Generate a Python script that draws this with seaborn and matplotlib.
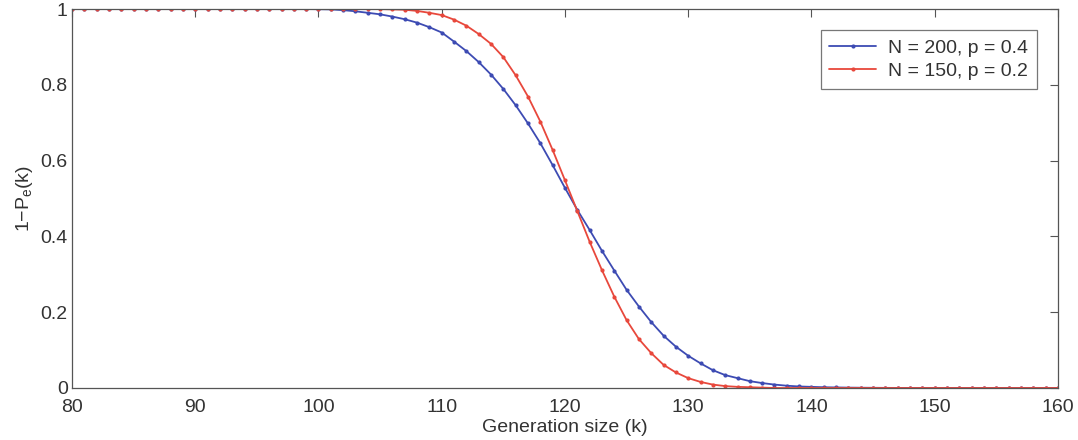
import pandas as pd
import matplotlib
matplotlib.use("Agg")
import matplotlib.pyplot as plt
import seaborn as sns

# generation size k = 80 .. 160
k_values = list(range(80, 161))

# N = 200, p = 0.4
blue_vals = (
    [1.0] * 20
    + [0.9995, 0.999, 0.997, 0.994, 0.990, 0.986, 0.980, 0.973, 0.964, 0.952]  # 100-109
    + [0.938, 0.914, 0.889, 0.860, 0.827, 0.789, 0.746, 0.698, 0.646, 0.588]   # 110-119
    + [0.528, 0.470, 0.417, 0.362, 0.310, 0.259, 0.215, 0.174, 0.138, 0.109]   # 120-129
    + [0.085, 0.065, 0.047, 0.034, 0.026, 0.018, 0.013, 0.009, 0.006, 0.004]   # 130-139
    + [0.003, 0.002, 0.0015, 0.001, 0.0007, 0.0005, 0.0003, 0.0002, 0.0001, 0.0]  # 140-149
    + [0.0] * 11
)

# N = 150, p = 0.2
red_vals = (
    [1.0] * 25
    + [0.9998, 0.999, 0.998, 0.995, 0.990]                                      # 105-109
    + [0.984, 0.972, 0.956, 0.934, 0.908, 0.873, 0.825, 0.769, 0.703, 0.628]   # 110-119
    + [0.548, 0.467, 0.386, 0.311, 0.241, 0.179, 0.129, 0.092, 0.061, 0.041]   # 120-129
    + [0.026, 0.016, 0.009, 0.005, 0.003, 0.002, 0.001, 0.0, 0.0, 0.0]         # 130-139
    + [0.0] * 21
)

series_labels = ["N = 200, p = 0.4", "N = 150, p = 0.2"]
colors = ["#3d4bb3", "#e8483c"]

df = pd.concat([
    pd.DataFrame({"k": k_values, "val": blue_vals, "series": series_labels[0]}),
    pd.DataFrame({"k": k_values, "val": red_vals, "series": series_labels[1]}),
])

sns.set_style("white")
plt.rcParams["font.family"] = ["Liberation Sans", "DejaVu Sans"]
plt.rcParams["mathtext.default"] = "regular"

fig = plt.figure(figsize=(10.78, 4.40), dpi=100)
ax = fig.add_axes([0.0668, 0.1182, 0.9146, 0.8613])

sns.lineplot(
    data=df, x="k", y="val", hue="series", palette=colors, ax=ax,
    marker="o", markersize=3, markeredgewidth=0, linewidth=1.3,
)

ax.set_xlim(80, 160)
ax.set_ylim(0, 1)
ax.set_xticks(range(80, 161, 10))
ax.set_yticks([0, 0.2, 0.4, 0.6, 0.8, 1])
ax.set_yticklabels(["0", "0.2", "0.4", "0.6", "0.8", "1"])

for s in ax.spines.values():
    s.set_color("#555555")
    s.set_linewidth(0.9)
ax.tick_params(direction="in", length=6, width=0.8, color="#555555",
               top=True, right=True, labelsize=14, labelcolor="#333333")
ax.tick_params(axis="x", pad=8)
ax.tick_params(axis="y", pad=3)

ax.set_xlabel("Generation size (k)", fontsize=14, color="#333333", labelpad=2)
ax.set_ylabel(r"1$-$P$_e$(k)", fontsize=14, color="#333333", labelpad=4)

leg = ax.legend(loc="upper right", fontsize=14, frameon=True, fancybox=False,
                borderaxespad=1.1, handlelength=2.4, labelcolor="#333333",
                borderpad=0.45, labelspacing=0.3, handletextpad=0.6)
leg.get_frame().set_edgecolor("#555555")
leg.get_frame().set_linewidth(0.9)

fig.savefig("out.png", dpi=100)
